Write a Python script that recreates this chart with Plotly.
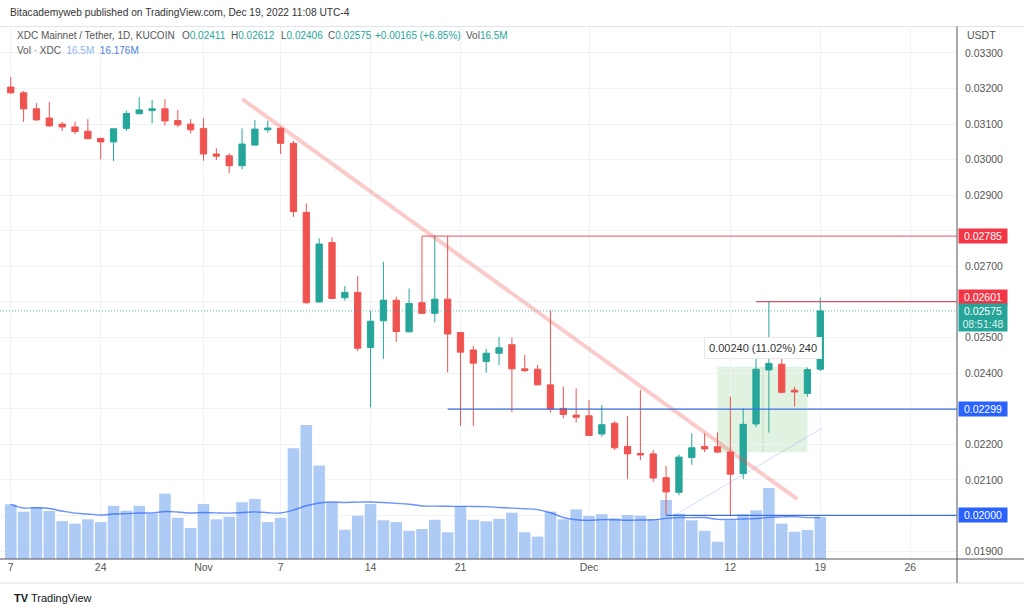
import pandas as pd
import plotly.graph_objects as go

# ---------------- data ----------------
dates = pd.date_range("2022-10-17", "2022-12-19", freq="D")

opens = [0.03204, 0.03188, 0.03143, 0.03117, 0.03100, 0.03092, 0.03080, 0.03060, 0.03050, 0.03088,
         0.03129, 0.03138, 0.03143, 0.03110, 0.03100,
         0.03088, 0.03016, 0.03011, 0.02983, 0.03041, 0.03084, 0.03088, 0.03046, 0.02852, 0.02600,
         0.02767, 0.02612, 0.02627, 0.02472, 0.02547, 0.02605, 0.02516, 0.02598, 0.02568, 0.02608,
         0.02514, 0.02465, 0.02433, 0.02456, 0.02480, 0.02412, 0.02411, 0.02367, 0.02301, 0.02282,
         0.02280, 0.02229, 0.02259, 0.02194, 0.02174, 0.02173, 0.02106, 0.02065, 0.02163, 0.02194,
         0.02193, 0.02178, 0.02118, 0.02257, 0.02409, 0.02425, 0.02352, 0.02343, 0.02411]
highs = [0.03233, 0.03193, 0.03159, 0.03162, 0.03106, 0.03107, 0.03114, 0.03061, 0.03087, 0.03138,
         0.03176, 0.03168, 0.03170, 0.03140, 0.03114,
         0.03116, 0.03032, 0.03018, 0.03088, 0.03112, 0.03110, 0.03093, 0.03053, 0.02877, 0.02779,
         0.02782, 0.02645, 0.02673, 0.02575, 0.02713, 0.02615, 0.02638, 0.02785, 0.02788, 0.02785,
         0.02514, 0.02476, 0.02468, 0.02502, 0.02500, 0.02451, 0.02423, 0.02576, 0.02362, 0.02357,
         0.02324, 0.02310, 0.02265, 0.02280, 0.02353, 0.02184, 0.02139, 0.02171, 0.02231, 0.02231,
         0.02233, 0.02334, 0.02301, 0.02465, 0.02601, 0.02460, 0.02362, 0.02416, 0.02612]
lows = [0.03185, 0.03106, 0.03109, 0.03092, 0.03081, 0.03072, 0.03058, 0.03001, 0.02996, 0.03081,
        0.03128, 0.03102, 0.03096, 0.03091, 0.03074,
        0.02997, 0.02999, 0.02962, 0.02973, 0.03040, 0.03076, 0.03016, 0.02839, 0.02594, 0.02598,
        0.02609, 0.02604, 0.02462, 0.02304, 0.02440, 0.02488, 0.02515, 0.02567, 0.02543, 0.02402,
        0.02252, 0.02252, 0.02401, 0.02423, 0.02290, 0.02404, 0.02366, 0.02289, 0.02273, 0.02261,
        0.02224, 0.02221, 0.02184, 0.02102, 0.02155, 0.02094, 0.02001, 0.02057, 0.02142, 0.02178,
        0.02175, 0.02000, 0.02102, 0.02248, 0.02233, 0.02343, 0.02306, 0.02334, 0.02406]
closes = [0.03188, 0.03143, 0.03112, 0.03095, 0.03092, 0.03079, 0.03059, 0.03050, 0.03087, 0.03130,
          0.03140, 0.03143, 0.03109, 0.03098, 0.03084,
          0.03016, 0.03010, 0.02983, 0.03044, 0.03086, 0.03089, 0.03046, 0.02854, 0.02598, 0.02763,
          0.02610, 0.02627, 0.02470, 0.02546, 0.02605, 0.02517, 0.02596, 0.02568, 0.02608, 0.02510,
          0.02459, 0.02428, 0.02456, 0.02471, 0.02412, 0.02407, 0.02367, 0.02299, 0.02284, 0.02276,
          0.02225, 0.02255, 0.02190, 0.02173, 0.02170, 0.02105, 0.02066, 0.02164, 0.02190, 0.02187,
          0.02178, 0.02116, 0.02256, 0.02411, 0.02427, 0.02346, 0.02347, 0.02410, 0.02575]
volumes_m = [21.5, 18.6, 20.4, 18.9, 14.9, 13.9, 15.6, 14.5, 20.9, 19.0, 20.9, 17.8, 25.7, 16.2, 12.2,
             21.6, 15.6, 16.6, 22.3, 23.6, 14.5, 16.2, 43.5, 52.7, 36.7, 22.3, 11.5, 17.0, 21.6, 15.2,
             14.5, 11.1, 11.8, 15.4, 10.5, 20.8, 15.4, 14.8, 15.8, 18.2, 10.5, 8.8, 18.6, 15.6, 19.5,
             16.9, 17.6, 16.0, 17.3, 17.0, 15.7, 23.2, 17.8, 15.2, 11.1, 6.8, 15.3, 17.6, 19.1, 27.9,
             13.9, 10.7, 11.4, 16.5]

tick_dates = ["2022-10-17", "2022-10-24", "2022-11-01", "2022-11-07", "2022-11-14",
              "2022-11-21", "2022-12-01", "2022-12-12", "2022-12-19", "2022-12-26"]
tick_texts = ["7", "24", "Nov", "7", "14", "21", "Dec", "12", "19", "26"]
price_ticks = [0.019, 0.020, 0.021, 0.022, 0.023, 0.024, 0.025, 0.026, 0.027,
               0.028, 0.029, 0.030, 0.031, 0.032, 0.033]
# tick labels hidden behind the price label boxes are left blank
price_tick_texts = ["0.01900", "", "0.02100", "0.02200", "", "0.02400", "0.02500", "", "0.02700",
                    "", "0.02900", "0.03000", "0.03100", "0.03200", "0.03300"]

level_high = 0.02785
level_high2 = 0.02601
level_sup = 0.02299
level_sup2 = 0.02000
last_price = 0.02575

vol_ma = pd.Series(volumes_m).rolling(20, min_periods=1).mean()

GREEN = "#26a69a"
RED = "#ef5350"
FONT = "Liberation Sans"
W, H = 1024, 613
L, R, T, B = 0, 67, 27, 54
PW, PH = W - L - R, H - T - B


def px(xp):
    return (xp - L) / PW


def py(yp):
    return (H - B - yp) / PH


fig = go.Figure()
fig.add_trace(go.Bar(x=dates, y=volumes_m, marker=dict(color="#aecbf5", line=dict(width=0)),
                     yaxis="y", hoverinfo="skip"))
fig.add_trace(go.Scatter(x=dates, y=vol_ma, mode="lines", yaxis="y", hoverinfo="skip",
                         line=dict(color="rgba(41,98,255,0.7)", width=1.4, shape="spline")))
fig.add_trace(go.Candlestick(
    x=dates, open=opens, high=highs, low=lows, close=closes, yaxis="y2",
    whiskerwidth=0,
    increasing=dict(line=dict(color=GREEN, width=1), fillcolor=GREEN),
    decreasing=dict(line=dict(color=RED, width=1), fillcolor=RED),
    hoverinfo="skip"))

grid = "#eff2f6"
axis_col = "#50535e"

fig.update_layout(
    width=W, height=H, margin=dict(l=L, r=R, t=T, b=B),
    paper_bgcolor="white", plot_bgcolor="white",
    showlegend=False, hovermode=False, bargap=0.1, boxgap=0.3,
    font=dict(family=FONT, size=11, color="#555"),
    xaxis=dict(type="date", range=["2022-10-16 03:55", "2022-12-29 15:20"],
               tickvals=tick_dates, ticktext=tick_texts, showgrid=True, gridcolor=grid,
               zeroline=False, showline=False, ticks="", rangeslider=dict(visible=False),
               tickfont=dict(size=10.5, color="#555", family=FONT)),
    yaxis=dict(range=[0, PH * 0.393], visible=False, fixedrange=True),
    yaxis2=dict(overlaying="y", side="right", range=[0.018775, 0.03373],
                tickvals=price_ticks, ticktext=price_tick_texts, showgrid=True, gridcolor=grid,
                zeroline=False, showline=False, ticks="", ticklabelstandoff=7,
                tickfont=dict(size=10.5, color="#555", family=FONT)),
)

shapes = []
# chart frame lines
shapes.append(dict(type="line", xref="paper", yref="paper", x0=0, x1=px(1024), y0=py(26.5), y1=py(26.5),
                   line=dict(color="#e0e3eb", width=1)))
shapes.append(dict(type="line", xref="paper", yref="paper", x0=0, x1=px(1024), y0=py(583), y1=py(583),
                   line=dict(color="#e0e3eb", width=1)))
shapes.append(dict(type="line", xref="paper", yref="paper", x0=1, x1=1, y0=py(583), y1=py(26.5),
                   line=dict(color=axis_col, width=1)))
shapes.append(dict(type="line", xref="paper", yref="paper", x0=0, x1=px(1024), y0=0, y1=0,
                   line=dict(color=axis_col, width=1)))
# green price range box
shapes.append(dict(type="rect", xref="x", yref="y2", x0="2022-12-11", x1="2022-12-18",
                   y0=0.021775, y1=0.024181, fillcolor="rgba(76,175,80,0.17)", line=dict(width=0),
                   layer="below"))
shapes.append(dict(type="line", xref="x", yref="y2", x0="2022-12-14 13:00", x1="2022-12-14 13:00",
                   y0=0.021775, y1=0.024181, line=dict(color="rgba(76,140,80,0.18)", width=1),
                   layer="below"))
# dotted last price line
shapes.append(dict(type="line", xref="paper", yref="y2", x0=0, x1=1, y0=last_price, y1=last_price,
                   line=dict(color="rgba(38,166,154,0.75)", width=1, dash="1px,2px")))
# falling trend line
shapes.append(dict(type="line", xref="x", yref="y2", x0="2022-11-04", y0=0.03171,
                   x1="2022-12-17 04:30", y1=0.020462,
                   line=dict(color="rgba(239,83,80,0.3)", width=4)))
# thin rising line
shapes.append(dict(type="line", xref="x", yref="y2", x0="2022-12-07 13:00", y0=0.01998,
                   x1="2022-12-19 02:40", y1=0.022449,
                   line=dict(color="rgba(41,98,255,0.22)", width=1)))
# horizontal levels
shapes.append(dict(type="line", xref="x", yref="y2", x0="2022-11-18", x1="2023-01-10",
                   y0=level_high, y1=level_high, line=dict(color="rgba(230,80,90,0.8)", width=1.4)))
shapes.append(dict(type="line", xref="x", yref="y2", x0="2022-12-14", x1="2023-01-10",
                   y0=level_high2, y1=level_high2, line=dict(color="rgba(205,70,85,0.9)", width=1.3)))
shapes.append(dict(type="line", xref="x", yref="y2", x0="2022-11-20", x1="2023-01-10",
                   y0=level_sup, y1=level_sup, line=dict(color="#3a6fdc", width=1.3)))
shapes.append(dict(type="line", xref="x", yref="y2", x0="2022-12-07", x1="2023-01-10",
                   y0=level_sup2, y1=level_sup2, line=dict(color="#3a6fdc", width=1.3)))
fig.update_layout(shapes=shapes)

ann = []
ann.append(dict(xref="paper", yref="paper", x=px(8), y=py(13), xanchor="left", yanchor="middle",
                text="Bitacademyweb published on TradingView.com, Dec 19, 2022 11:08 UTC-4",
                showarrow=False, font=dict(size=10.2, color="#333", family=FONT)))

legend_segments = [
    (15, "XDC Mainnet / Tether, 1D, KUCOIN"),
    (180, "O<span style='color:%s'>0.02411</span>" % GREEN),
    (229, "H<span style='color:%s'>0.02612</span>" % GREEN),
    (279, "L<span style='color:%s'>0.02406</span>" % GREEN),
    (326, "C<span style='color:%s'>0.02575</span>" % GREEN),
    (373, "<span style='color:%s'>+0.00165 (+6.85%%)</span>" % GREEN),
    (464, "Vol<span style='color:%s'>16.5M</span>" % GREEN),
]
for xp, txt in legend_segments:
    ann.append(dict(xref="paper", yref="paper", x=px(xp), y=py(35), xanchor="left", yanchor="middle",
                    text=txt, showarrow=False, font=dict(size=10, color="#555", family=FONT)))
ann.append(dict(xref="paper", yref="paper", x=px(15), y=py(50), xanchor="left", yanchor="middle",
                text="Vol · XDC  <span style='color:#8db5ee'>16.5M</span>  "
                     "<span style='color:#4f7fdc'>16.176M</span>",
                showarrow=False, font=dict(size=10, color="#555", family=FONT)))
ann.append(dict(xref="paper", yref="paper", x=px(965), y=py(35), xanchor="left", yanchor="middle",
                text="USDT", showarrow=False, font=dict(size=10.5, color="#555", family=FONT)))


def price_label(val, color, yshift=0, text=None, height=14):
    ann.append(dict(xref="paper", yref="y2", x=1, y=val, xanchor="left", yanchor="middle",
                    xshift=1, yshift=yshift, text=text or "%.5f" % val, showarrow=False,
                    bgcolor=color, width=48, height=height, align="center", borderpad=0,
                    font=dict(size=10.5, color="white", family=FONT)))


price_label(level_high, "#f23645")
price_label(level_high2, "#f23645", yshift=4.5)
price_label(last_price, GREEN, yshift=-6.5,
            text="0.02575<br><span style='color:rgba(255,255,255,0.85)'>08:51:48</span>", height=27)
price_label(level_sup, "#2962ff")
price_label(level_sup2, "#2962ff")

ann.append(dict(xref="x", yref="y2", x="2022-12-14 13:00", y=0.024707, xanchor="center",
                yanchor="middle", text="0.00240 (11.02%) 240", showarrow=False,
                bgcolor="white", bordercolor="#e6e8ee", borderwidth=1, borderpad=4,
                font=dict(size=11, color="#333", family=FONT)))
ann.append(dict(xref="paper", yref="paper", x=px(12), y=py(598), xanchor="left", yanchor="middle",
                text="<b>TV</b> TradingView", showarrow=False,
                font=dict(size=11, color="#131722", family=FONT)))
fig.update_layout(annotations=ann)

fig.write_html("out.html", config={"displayModeBar": False},
               post_script="document.body.style.margin='0px';document.body.style.overflow='hidden';")
